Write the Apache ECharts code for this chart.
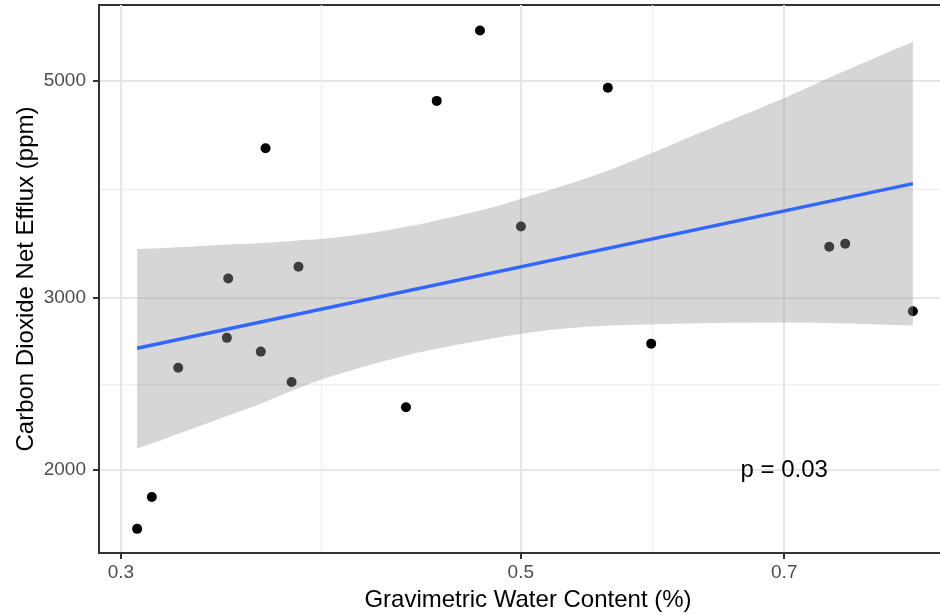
<!DOCTYPE html>
<html>
<head>
<meta charset="utf-8">
<title>CO2 efflux vs water content</title>
<script src="https://cdn.jsdelivr.net/npm/echarts@6/dist/echarts.min.js"></script>
<style>
  html, body { margin: 0; padding: 0; background: #ffffff; }
  #chart { width: 940px; height: 615px; }
</style>
</head>
<body>
<div id="chart"></div>
<script>
// Soil samples: gravimetric water content (%) against CO2 net efflux (ppm)
const waterContent = [0.3063, 0.3121, 0.3228, 0.3441, 0.3435, 0.3587, 0.3609, 0.3731, 0.3764,
                      0.4318, 0.4491, 0.4746, 0.5001, 0.5588, 0.5906, 0.7414, 0.7567, 0.8250];
const co2Efflux = [1741, 1877, 2544, 3139, 2730, 2643, 4267, 2460, 3227,
                   2318, 4770, 5629, 3549, 4921, 2693, 3384, 3408, 2907];

// Linear fit on the log-log scale (end points)
const fitX = [0.3063, 0.8250];
const fitY = [2664, 3926];

// Confidence band around the fit
const bandX = [0.3063, 0.3194, 0.3319, 0.3448, 0.3596, 0.3756, 0.3868, 0.4087, 0.4285, 0.4452,
               0.4807, 0.4995, 0.5257, 0.5533, 0.5898, 0.6286, 0.7000, 0.7616, 0.8250];
const bandUpper = [3365, 3375, 3389, 3401, 3413, 3433, 3445, 3486, 3536, 3586,
                   3706, 3786, 3896, 4020, 4211, 4425, 4804, 5148, 5484];
const bandLower = [2104, 2162, 2218, 2277, 2342, 2421, 2472, 2549, 2609, 2653,
                   2723, 2755, 2788, 2808, 2818, 2826, 2831, 2824, 2810];

// Axis breaks and limits
const xTicks = [0.3, 0.5, 0.7];
const yTicks = [2000, 3000, 5000];
const xRange = [0.29174, 0.87283];
const yRange = [1644.8, 5978.6];

// Annotation
const pText = 'p = 0.03';
const pAt = [0.7, 2000];

const lg = Math.log10;
const FONT = '"Liberation Sans", Arial, Helvetica, sans-serif';

// minor breaks sit halfway between major breaks on the log scale
function minorBreaks(ticks) {
  const out = [];
  for (let i = 0; i < ticks.length - 1; i++) out.push((lg(ticks[i]) + lg(ticks[i + 1])) / 2);
  return out;
}
function tickName(ticks) {
  return function (v) {
    const t = ticks.find(function (k) { return Math.abs(lg(k) - v) < 1e-6; });
    return t === undefined ? '' : String(t);
  };
}

const MAJOR = { color: '#e6e6e6', width: 2 };
const MINOR = { color: '#efefef', width: 1.3 };
const AXIS_LINE = { color: '#333333', width: 2 };

const chart = echarts.init(document.getElementById('chart'), null, { renderer: 'canvas' });

chart.setOption({
  animation: false,
  backgroundColor: '#ffffff',
  textStyle: { fontFamily: FONT },
  grid: {
    left: 99, top: 5, width: 858, height: 548,
    show: true, backgroundColor: '#ffffff',
    borderColor: '#333333', borderWidth: 2,
    containLabel: false, outerBoundsMode: 'none'
  },
  xAxis: [
    {
      type: 'value', position: 'bottom',
      min: lg(xRange[0]), max: lg(xRange[1]),
      name: 'Gravimetric Water Content (%)', nameLocation: 'middle', nameGap: 35,
      nameMoveOverlap: false,
      nameTextStyle: { fontSize: 24, color: '#000000', fontFamily: FONT },
      axisLine: { show: true, onZero: false, lineStyle: AXIS_LINE },
      axisTick: { show: true, length: 6, lineStyle: AXIS_LINE, customValues: xTicks.map(lg) },
      axisLabel: {
        customValues: xTicks.map(lg), formatter: tickName(xTicks),
        fontSize: 19, color: '#4d4d4d', margin: 10, fontFamily: FONT
      },
      splitLine: { show: true, lineStyle: MAJOR },
      minorSplitLine: { show: false }
    },
    {
      type: 'value', position: 'bottom',
      min: lg(xRange[0]), max: lg(xRange[1]),
      axisLine: { show: false },
      axisTick: { show: false, customValues: minorBreaks(xTicks) },
      axisLabel: { show: false, customValues: minorBreaks(xTicks) },
      splitLine: { show: true, lineStyle: MINOR }
    }
  ],
  yAxis: [
    {
      type: 'value', position: 'left',
      min: lg(yRange[0]), max: lg(yRange[1]),
      name: 'Carbon Dioxide Net Efflux (ppm)', nameLocation: 'middle', nameGap: 61,
      nameMoveOverlap: false,
      nameTextStyle: { fontSize: 24, color: '#000000', fontFamily: FONT },
      axisLine: { show: true, onZero: false, lineStyle: AXIS_LINE },
      axisTick: { show: true, length: 6, lineStyle: AXIS_LINE, customValues: yTicks.map(lg) },
      axisLabel: {
        customValues: yTicks.map(lg), formatter: tickName(yTicks),
        fontSize: 19, color: '#4d4d4d', margin: 13, fontFamily: FONT
      },
      splitLine: { show: true, lineStyle: MAJOR },
      minorSplitLine: { show: false }
    },
    {
      type: 'value', position: 'left',
      min: lg(yRange[0]), max: lg(yRange[1]),
      axisLine: { show: false },
      axisTick: { show: false, customValues: minorBreaks(yTicks) },
      axisLabel: { show: false, customValues: minorBreaks(yTicks) },
      splitLine: { show: true, lineStyle: MINOR }
    }
  ],
  series: [
    {
      name: 'samples', type: 'scatter', xAxisIndex: 0, yAxisIndex: 0, z: 2, silent: true,
      symbol: 'circle', symbolSize: 10,
      itemStyle: { color: '#000000', opacity: 1 },
      data: waterContent.map(function (x, i) { return [lg(x), lg(co2Efflux[i])]; })
    },
    {
      name: 'confidence band', type: 'custom', xAxisIndex: 0, yAxisIndex: 0, z: 3, silent: true,
      encode: { x: 0, y: [1, 2] },
      data: bandX.map(function (x, i) { return [lg(x), lg(bandUpper[i]), lg(bandLower[i])]; }),
      renderItem: function (params, api) {
        if (params.dataIndex !== 0) return null;
        const n = bandX.length;
        const up = [], lo = [];
        for (let i = 0; i < n; i++) {
          up.push(api.coord([lg(bandX[i]), lg(bandUpper[i])]));
          lo.push(api.coord([lg(bandX[i]), lg(bandLower[i])]));
        }
        // corners are doubled so the smoothing keeps the two ends straight
        const pts = [up[0]].concat(up, [up[n - 1], lo[n - 1]], lo.slice().reverse(), [lo[0]]);
        return {
          type: 'polygon',
          shape: { points: pts, smooth: 0.35 },
          style: { fill: 'rgba(153,153,153,0.4)', stroke: null }
        };
      }
    },
    {
      name: 'fit', type: 'line', xAxisIndex: 0, yAxisIndex: 0, z: 4, silent: true,
      showSymbol: false, symbol: 'none',
      lineStyle: { color: '#3366ff', width: 3.4 },
      data: fitX.map(function (x, i) { return [lg(x), lg(fitY[i])]; }),
      markPoint: {
        silent: true,
        symbol: 'circle', symbolSize: 1,
        itemStyle: { color: 'rgba(0,0,0,0)' },
        label: {
          show: true, position: 'inside', formatter: pText,
          fontSize: 24, color: '#000000', fontFamily: FONT
        },
        data: [{ coord: [lg(pAt[0]), lg(pAt[1])] }]
      }
    }
  ]
});
</script>
</body>
</html>
